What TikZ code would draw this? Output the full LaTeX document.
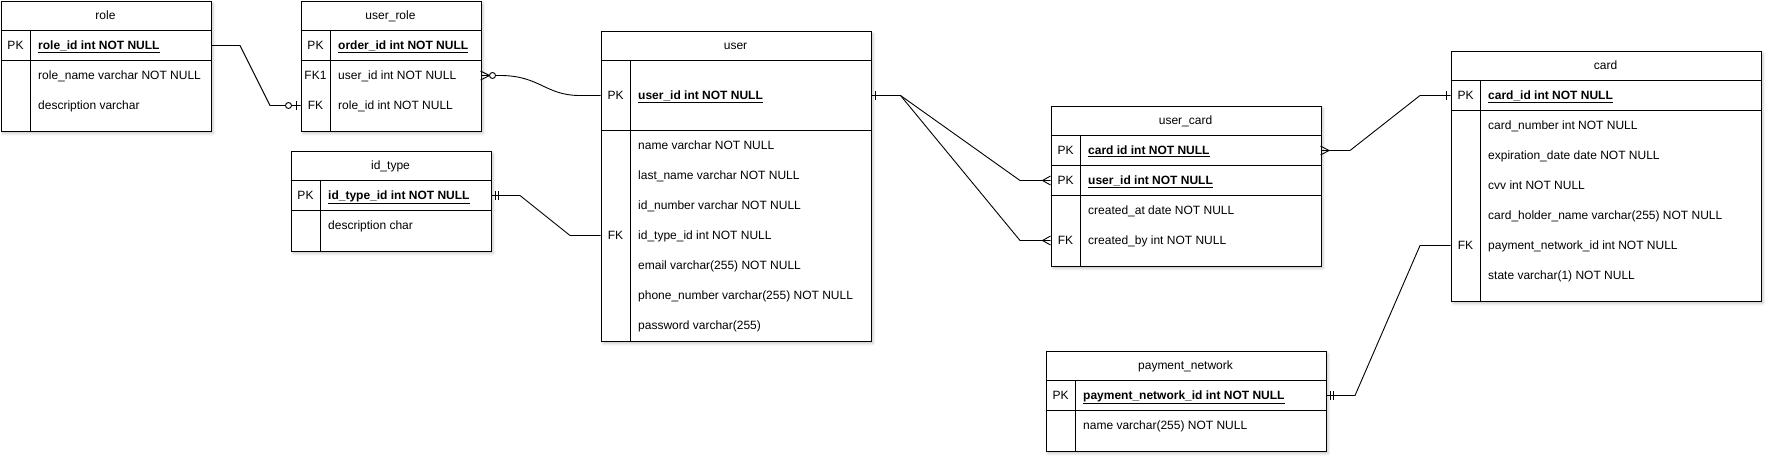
\documentclass[tikz,border=0pt]{standalone}
\usepackage{fontspec}
\setmainfont{Liberation Sans}
\usetikzlibrary{shadows.blur}
\newcommand{\pkf}[1]{\underline{\textbf{#1}}}
\begin{document}
\begin{tikzpicture}[x=1pt,y=-1pt,
  every node/.style={font=\fontsize{12}{14}\selectfont, text height=10.6pt, text depth=2pt, inner sep=0pt},
  tbox/.style={draw, line width=1pt, fill=white, anchor=north west, inner sep=0pt, text height=, text depth=,
    blur shadow={shadow xshift=2pt, shadow yshift=-2.5pt, shadow blur radius=2.5pt, shadow opacity=22}},
  tline/.style={line width=1pt},
  hdr/.style={anchor=center},
  keyl/.style={anchor=center},
  fld/.style={anchor=west},
  conn/.style={line width=0.9pt},
  erk/.style={line width=0.9pt},
  ring/.style={line width=0.9pt, fill=white}
]
\useasboundingbox (0,0) rectangle (1772,463);

% ---------------- role
\node[tbox, minimum width=210pt, minimum height=130pt] (role) at (0.5,0.5) {};
\draw[tline] (0.5,30.5) -- (210.5,30.5) (0.5,60.5) -- (210.5,60.5) (30.5,30.5) -- (30.5,130.5);
\node[hdr] (roleh) at (105.5,15.5) {role};
\node[keyl] (rolek1) at (15.5,45.5) {PK};
\node[fld] (roleid) at (38,45.5) {\pkf{role\_id int NOT NULL}};
\node[fld] (rolename) at (38,75.5) {role\_name varchar NOT NULL};
\node[fld] (roledesc) at (38,105.5) {description varchar};

% ---------------- user_role
\node[tbox, minimum width=180pt, minimum height=130pt] (urole) at (300.5,0.5) {};
\draw[tline] (300.5,30.5) -- (480.5,30.5) (300.5,60.5) -- (480.5,60.5) (330.5,30.5) -- (330.5,130.5);
\node[hdr] (uroleh) at (390.5,15.5) {user\_role};
\node[keyl] (urk1) at (315.5,45.5) {PK};
\node[keyl] (urk2) at (315.5,75.5) {FK1};
\node[keyl] (urk3) at (315.5,105.5) {FK};
\node[fld] (urorderid) at (338,45.5) {\pkf{order\_id int NOT NULL}};
\node[fld] (uruserid) at (338,75.5) {user\_id int NOT NULL};
\node[fld] (urroleid) at (338,105.5) {role\_id int NOT NULL};

% ---------------- id_type
\node[tbox, minimum width=200pt, minimum height=100pt] (idtype) at (290.5,150.5) {};
\draw[tline] (290.5,180.5) -- (490.5,180.5) (290.5,210.5) -- (490.5,210.5) (320.5,180.5) -- (320.5,250.5);
\node[hdr] (idtypeh) at (390.5,165.5) {id\_type};
\node[keyl] (itk1) at (305.5,195.5) {PK};
\node[fld] (idtid) at (328,195.5) {\pkf{id\_type\_id int NOT NULL}};
\node[fld] (idtdesc) at (328,225.5) {description char};

% ---------------- user
\node[tbox, minimum width=270pt, minimum height=310pt] (user) at (600.5,30.5) {};
\draw[tline] (600.5,60.5) -- (870.5,60.5) (600.5,130.5) -- (870.5,130.5) (630.5,60.5) -- (630.5,340.5);
\node[hdr] (userh) at (735.5,45.5) {user};
\node[keyl] (uk1) at (615.5,95.5) {PK};
\node[keyl] (uk2) at (615.5,235.5) {FK};
\node[fld] (userid) at (638,95.5) {\pkf{user\_id int NOT NULL}};
\node[fld] (uname) at (638,145.5) {name varchar NOT NULL};
\node[fld] (ulast) at (638,175.5) {last\_name varchar NOT NULL};
\node[fld] (uidnum) at (638,205.5) {id\_number varchar NOT NULL};
\node[fld] (useridtype) at (638,235.5) {id\_type\_id int NOT NULL};
\node[fld] (uemail) at (638,265.5) {email varchar(255) NOT NULL};
\node[fld] (uphone) at (638,295.5) {phone\_number varchar(255) NOT NULL};
\node[fld] (upass) at (638,325.5) {password varchar(255)};

% ---------------- user_card
\node[tbox, minimum width=270pt, minimum height=160pt] (ucard) at (1050.5,105.5) {};
\draw[tline] (1050.5,135.5) -- (1320.5,135.5) (1050.5,165.5) -- (1320.5,165.5) (1050.5,195.5) -- (1320.5,195.5) (1080.5,135.5) -- (1080.5,265.5);
\node[hdr] (ucardh) at (1185.5,120.5) {user\_card};
\node[keyl] (uck1) at (1065.5,150.5) {PK};
\node[keyl] (uck2) at (1065.5,180.5) {PK};
\node[keyl] (uck3) at (1065.5,240.5) {FK};
\node[fld] (uccardid) at (1088,150.5) {\pkf{card id int NOT NULL}};
\node[fld] (ucuserid) at (1088,180.5) {\pkf{user\_id int NOT NULL}};
\node[fld] (uccreatedat) at (1088,210.5) {created\_at date NOT NULL};
\node[fld] (uccreatedby) at (1088,240.5) {created\_by int NOT NULL};

% ---------------- card
\node[tbox, minimum width=310pt, minimum height=250pt] (card) at (1450.5,50.5) {};
\draw[tline] (1450.5,80.5) -- (1760.5,80.5) (1450.5,110.5) -- (1760.5,110.5) (1480.5,80.5) -- (1480.5,300.5);
\node[hdr] (cardh) at (1605.5,65.5) {card};
\node[keyl] (ck1) at (1465.5,95.5) {PK};
\node[keyl] (ck2) at (1465.5,245.5) {FK};
\node[fld] (cardid) at (1488,95.5) {\pkf{card\_id int NOT NULL}};
\node[fld] (cnum) at (1488,125.5) {card\_number int NOT NULL};
\node[fld] (cexp) at (1488,155.5) {expiration\_date date NOT NULL};
\node[fld] (ccvv) at (1488,185.5) {cvv int NOT NULL};
\node[fld] (cholder) at (1488,215.5) {card\_holder\_name varchar(255) NOT NULL};
\node[fld] (cardpnid) at (1488,245.5) {payment\_network\_id int NOT NULL};
\node[fld] (cstate) at (1488,275.5) {state varchar(1) NOT NULL};

% ---------------- payment_network
\node[tbox, minimum width=280pt, minimum height=100pt] (pn) at (1045.5,350.5) {};
\draw[tline] (1045.5,380.5) -- (1325.5,380.5) (1045.5,410.5) -- (1325.5,410.5) (1075.5,380.5) -- (1075.5,450.5);
\node[hdr] (pnh) at (1185.5,365.5) {payment\_network};
\node[keyl] (pnk1) at (1060.5,395.5) {PK};
\node[fld] (pnid) at (1083,395.5) {\pkf{payment\_network\_id int NOT NULL}};
\node[fld] (pnname) at (1083,425.5) {name varchar(255) NOT NULL};

% ================= connectors
% role -> user_role (zero or one)
\draw[conn] (role.east |- roleid) -- (240,45.5) -- (270,105.5) -- (urole.west |- urroleid);
\draw[erk] (296.5,101) -- (296.5,110);
\draw[ring] (288.5,105.5) circle (3);

% user_role -> user (zero or many)
\draw[conn] (urole.east |- uruserid) -- (500,75.5) .. controls (540,75.5) and (545,95.5) .. (580,95.5) -- (user.west |- userid);
\draw[erk] (480.5,71) -- (489.5,75.5) -- (480.5,80);
\draw[ring] (492.5,75.5) circle (3);

% id_type -> user (mandatory one)
\draw[conn] (idtype.east |- idtid) -- (520,195.5) -- (570,235.5) -- (user.west |- useridtype);
\draw[erk] (495,191) -- (495,200) (498.5,191) -- (498.5,200);

% user -> user_card (one to many, twice)
\draw[conn] (user.east |- userid) -- (900.5,95.5) -- (1020,180.5) -- (ucard.west |- ucuserid);
\draw[conn] (user.east |- userid) -- (900.5,95.5) -- (1020,240.5) -- (ucard.west |- uccreatedby);
\draw[erk] (875,91) -- (875,100);
\draw[erk] (1050.5,176) -- (1042.5,180.5) -- (1050.5,185);
\draw[erk] (1050.5,236) -- (1042.5,240.5) -- (1050.5,245);

% user_card -> card (many to one)
\draw[conn] (ucard.east |- uccardid) -- (1350,150.5) -- (1420,95.5) -- (card.west |- cardid);
\draw[erk] (1320.5,146) -- (1329,150.5) -- (1320.5,155);
\draw[erk] (1446.5,91) -- (1446.5,100);

% payment_network -> card (mandatory one)
\draw[conn] (pn.east |- pnid) -- (1355,395.5) -- (1420,245.5) -- (card.west |- cardpnid);
\draw[erk] (1330,391) -- (1330,400) (1333.5,391) -- (1333.5,400);
\end{tikzpicture}
\end{document}
